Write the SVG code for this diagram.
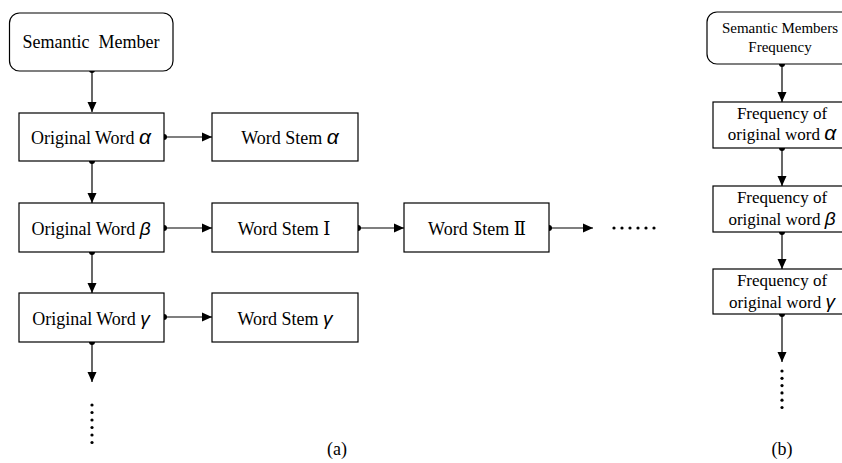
<svg xmlns="http://www.w3.org/2000/svg" width="842" height="463" viewBox="0 0 842 463">
<style>
.box{fill:#fff;stroke:#000;stroke-width:1.2}
.t{font-family:"Liberation Serif","DejaVu Serif",serif;font-size:18px;fill:#000;text-anchor:middle}
.tb{font-family:"Liberation Serif","DejaVu Serif",serif;font-size:17px;fill:#000;text-anchor:middle}
.ts{font-family:"Liberation Serif","DejaVu Serif",serif;font-size:15px;fill:#000;text-anchor:middle}
.g{font-family:"Liberation Sans","DejaVu Sans",sans-serif;font-style:italic;font-size:19px}
.ga{font-family:"Liberation Sans","DejaVu Sans",sans-serif;font-style:italic;font-size:21px}
.ln{stroke:#000;stroke-width:1.2;fill:none;marker-start:url(#dot);marker-end:url(#arr)}
.d{fill:#000}
</style>
<defs>
<marker id="arr" viewBox="0 0 10 10" refX="10" refY="5" markerWidth="10" markerHeight="10" markerUnits="userSpaceOnUse" orient="auto">
<path d="M0,0.5 L10,5 L0,9.5 Z" fill="#000"/>
</marker>
<marker id="dot" viewBox="0 0 6 6" refX="3" refY="3" markerWidth="6" markerHeight="6" markerUnits="userSpaceOnUse" orient="auto">
<circle cx="3" cy="3" r="3" fill="#000"/>
</marker>
</defs>
<g id="connectors">
<path class="ln" d="M92,70 V112"/>
<path class="ln" d="M164,137 H212"/>
<path class="ln" d="M92,161 V203"/>
<path class="ln" d="M164,228 H212"/>
<path class="ln" d="M358,228 H404"/>
<path class="ln" d="M549,228 H593"/>
<path class="ln" d="M92,252 V293"/>
<path class="ln" d="M164,317 H212"/>
<path class="ln" d="M92,342 V382"/>
<path class="ln" d="M782,64 V102"/>
<path class="ln" d="M782,148 V186"/>
<path class="ln" d="M782,232 V269"/>
<path class="ln" d="M782,314 V362"/>
</g>
<g id="semantic-member"><rect class="box" x="9.5" y="13" width="163.5" height="58" rx="10"/><text class="t" x="91" y="48" xml:space="preserve">Semantic  Member</text></g>
<g id="orig-alpha"><rect class="box" x="19" y="113" width="145" height="48"/><text class="t" x="91" y="144">Original Word <tspan class="ga">α</tspan></text></g>
<g id="stem-alpha"><rect class="box" x="212" y="113" width="146" height="48"/><text class="t" x="290" y="144">Word Stem <tspan class="ga">α</tspan></text></g>
<g id="orig-beta"><rect class="box" x="19" y="203" width="145" height="49"/><text class="t" x="91" y="235">Original Word <tspan class="g">β</tspan></text></g>
<g id="stem-1"><rect class="box" x="212" y="203" width="146" height="49"/><text class="t" x="284" y="235">Word Stem  Ⅰ</text></g>
<g id="stem-2"><rect class="box" x="404" y="203" width="145" height="49"/><text class="t" x="477" y="235">Word Stem  Ⅱ</text></g>
<g id="hdots"><circle class="d" cx="614" cy="228" r="1.6"/><circle class="d" cx="622" cy="228" r="1.6"/><circle class="d" cx="630" cy="228" r="1.6"/><circle class="d" cx="638" cy="228" r="1.6"/><circle class="d" cx="646" cy="228" r="1.6"/><circle class="d" cx="654" cy="228" r="1.6"/></g>
<g id="orig-gamma"><rect class="box" x="19" y="293" width="145" height="49"/><text class="t" x="91" y="325">Original Word <tspan class="g">γ</tspan></text></g>
<g id="stem-gamma"><rect class="box" x="212" y="293" width="146" height="49"/><text class="t" x="285" y="325">Word Stem <tspan class="g">γ</tspan></text></g>
<g id="vdots-a"><circle class="d" cx="92" cy="405" r="1.6"/><circle class="d" cx="92" cy="412.5" r="1.6"/><circle class="d" cx="92" cy="420" r="1.6"/><circle class="d" cx="92" cy="427.5" r="1.6"/><circle class="d" cx="92" cy="435" r="1.6"/><circle class="d" cx="92" cy="442.5" r="1.6"/></g>
<text class="t" x="337" y="455">(a)</text>
<g id="smf"><rect class="box" x="707" y="12" width="150" height="52" rx="10"/><text class="ts" x="780" y="33">Semantic Members</text><text class="ts" x="780" y="52">Frequency</text></g>
<g id="f-alpha"><rect class="box" x="713" y="102" width="140" height="46"/><text class="tb" x="782" y="119">Frequency of</text><text class="tb" x="782" y="140">original word <tspan class="ga" font-size="20">α</tspan></text></g>
<g id="f-beta"><rect class="box" x="713" y="186" width="140" height="46"/><text class="tb" x="782" y="203">Frequency of</text><text class="tb" x="782" y="225">original word <tspan class="g" font-size="18">β</tspan></text></g>
<g id="f-gamma"><rect class="box" x="713" y="269" width="140" height="45"/><text class="tb" x="782" y="286">Frequency of</text><text class="tb" x="782" y="308">original word <tspan class="g" font-size="18">γ</tspan></text></g>
<g id="vdots-b"><circle class="d" cx="782" cy="371" r="1.6"/><circle class="d" cx="782" cy="378.3" r="1.6"/><circle class="d" cx="782" cy="385.6" r="1.6"/><circle class="d" cx="782" cy="392.9" r="1.6"/><circle class="d" cx="782" cy="400.2" r="1.6"/><circle class="d" cx="782" cy="407.5" r="1.6"/></g>
<text class="t" x="782" y="455">(b)</text>
</svg>
